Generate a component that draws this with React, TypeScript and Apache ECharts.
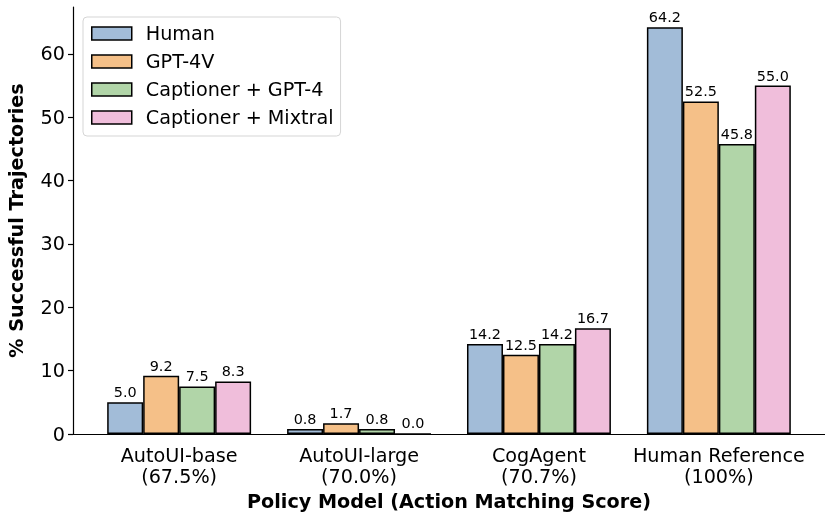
import React, { useEffect, useRef } from "react";
import * as echarts from "echarts";

const categories = ["AutoUI-base\n(67.5%)", "AutoUI-large\n(70.0%)", "CogAgent\n(70.7%)", "Human Reference\n(100%)"];
const seriesNames = ["Human", "GPT-4V", "Captioner + GPT-4", "Captioner + Mixtral"];
const human = [5.0, 0.8, 14.2, 64.2];
const gpt4v = [9.2, 1.7, 12.5, 52.5];
const captionerGpt4 = [7.5, 0.8, 14.2, 45.8];
const captionerMixtral = [8.3, 0.0, 16.7, 55.0];
const colors = ["#a2bcd8", "#f5c088", "#b1d5a8", "#f0bedb"];
const yTicks = [0, 10, 20, 30, 40, 50, 60];

const FONT = "DejaVu Sans";
const FS = 19.2;

export default function App() {
  const ref = useRef<HTMLDivElement>(null);
  useEffect(() => {
    if (!ref.current) return;
    const chart = echarts.init(ref.current, undefined, { renderer: "svg" });
    const all = [human, gpt4v, captionerGpt4, captionerMixtral];
    const series = all.map((vals, si) => ({
      name: seriesNames[si],
      type: "bar",
      data: vals.map((v, i) => [i, v]),
      barGap: "0%",
      barCategoryGap: "20%",
      itemStyle: { color: colors[si], borderColor: "#000", borderWidth: 1.5 },
      label: {
        show: true,
        position: "top",
        distance: 3,
        fontFamily: FONT,
        fontSize: 14.4,
        color: "#000",
        formatter: (p: any) => Number(p.value[1]).toFixed(1),
      },
    }));
    chart.setOption({
      animation: false,
      textStyle: { fontFamily: FONT },
      grid: { left: 73, right: 0, top: 7, bottom: 78, outerBoundsMode: "none", containLabel: false },
      legend: {
        orient: "vertical",
        left: 83,
        top: 17,
        padding: [7, 7, 9, 8],
        icon: "rect",
        itemWidth: 40,
        itemHeight: 13,
        itemGap: 9,
        backgroundColor: "#fff",
        borderColor: "#d5d5d5",
        borderWidth: 1,
        borderRadius: 4,
        textStyle: { fontFamily: FONT, fontSize: FS, color: "#000", padding: [0, 0, 0, 9] },
        data: seriesNames.map((n) => ({ name: n, itemStyle: { borderColor: "#000", borderWidth: 1.5 } })),
      },
      xAxis: {
        type: "value",
        min: -0.59,
        max: 3.59,
        splitLine: { show: false },
        axisTick: { show: false, customValues: [0, 1, 2, 3] },
        axisLine: { show: true, onZero: false, lineStyle: { color: "#000", width: 1.2 } },
        axisLabel: {
          customValues: [0, 1, 2, 3],
          formatter: (v: number) => categories[Math.round(v)] ?? "",
          fontFamily: FONT,
          fontSize: FS,
          color: "#000",
          lineHeight: 21,
          margin: 11,
        },
        name: "Policy Model (Action Matching Score)",
        nameLocation: "middle",
        nameGap: 58,
        nameTextStyle: { fontFamily: FONT, fontSize: FS, fontWeight: "bold", color: "#000" },
      },
      yAxis: {
        type: "value",
        min: 0,
        max: 67.41,
        interval: 10,
        splitLine: { show: false },
        axisLine: { show: true, onZero: false, lineStyle: { color: "#000", width: 1.2 } },
        axisTick: { show: true, length: 5, lineStyle: { color: "#000", width: 1.2 }, customValues: yTicks },
        axisLabel: {
          customValues: yTicks,
          fontFamily: FONT,
          fontSize: FS,
          color: "#000",
          margin: 8,
        },
        name: "% Successful Trajectories",
        nameLocation: "middle",
        nameGap: 47,
        nameTextStyle: { fontFamily: FONT, fontSize: FS, fontWeight: "bold", color: "#000" },
      },
      series,
    });
    return () => chart.dispose();
  }, []);
  return <div ref={ref} style={{ position: "fixed", left: 0, top: 0, width: 825, height: 512 }} />;
}
